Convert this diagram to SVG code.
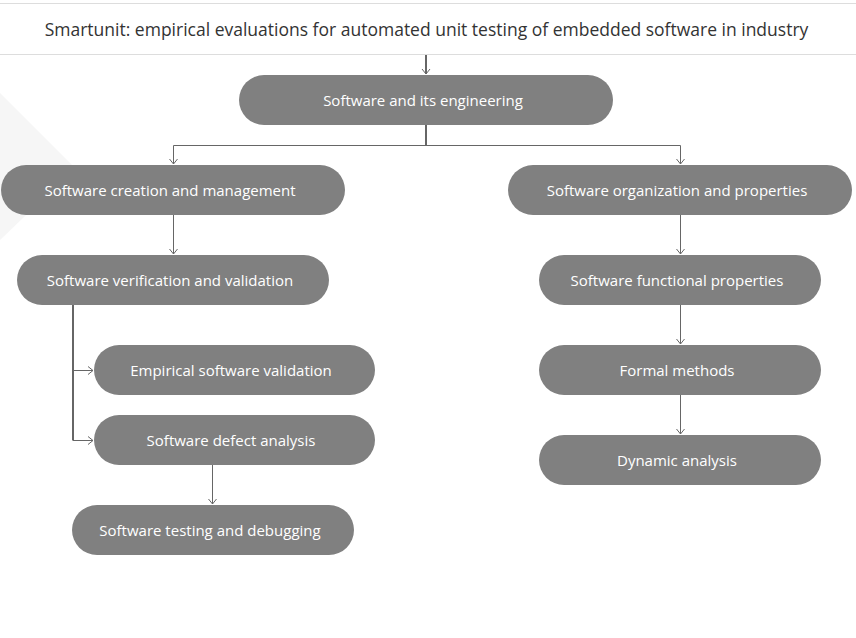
<svg xmlns="http://www.w3.org/2000/svg" width="856" height="638" viewBox="0 0 856 638">
<style>
.node rect{fill:#808080}
.node text{fill:#fff;font-family:"Open Sans","DejaVu Sans",sans-serif;font-size:15px;text-anchor:middle;dominant-baseline:central}
.title{fill:#333;font-family:"Open Sans","DejaVu Sans",sans-serif;font-size:17.5px;text-anchor:middle;dominant-baseline:central}
.c{fill:none;stroke:#666;stroke-width:1}
.t{fill:none;stroke:#666;stroke-width:2}
</style>
<defs>
<marker id="ah" markerWidth="10" markerHeight="10" refX="8" refY="5" orient="auto" markerUnits="userSpaceOnUse">
<path d="M3,1 L8,5 L3,9" fill="none" stroke="#666" stroke-width="1"/>
</marker>
</defs>
<rect x="0" y="0" width="856" height="638" fill="#fff"/>
<polygon points="0,93 75,168 0,240" fill="#f6f6f6"/>
<line x1="0" y1="3.5" x2="856" y2="3.5" stroke="#ddd"/>
<line x1="0" y1="54.5" x2="856" y2="54.5" stroke="#ddd"/>
<text class="title" x="426.5" y="29">Smartunit: empirical evaluations for automated unit testing of embedded software in industry</text>
<g id="connectors">
<line class="t" x1="426" y1="55" x2="426" y2="74" marker-end="url(#ah)"/>
<path class="t" d="M426,125 V145.5"/>
<path class="c" d="M426,145.5 H173.5 V164" marker-end="url(#ah)"/>
<path class="c" d="M426,145.5 H680.5 V164" marker-end="url(#ah)"/>
<path class="c" d="M173.5,215 V254" marker-end="url(#ah)"/>
<path class="t" d="M73,305 V440.5"/>
<path class="c" d="M73,370.5 H93" marker-end="url(#ah)"/>
<path class="c" d="M73,440.5 H93" marker-end="url(#ah)"/>
<path class="c" d="M212.5,465 V504" marker-end="url(#ah)"/>
<path class="c" d="M680.5,215 V254" marker-end="url(#ah)"/>
<path class="c" d="M680.5,305 V344" marker-end="url(#ah)"/>
<path class="c" d="M680.5,395 V434" marker-end="url(#ah)"/>
</g>
<g id="n0" class="node"><rect x="239" y="75" width="374" height="50" rx="25"/><text x="423" y="100">Software and its engineering</text></g>
<g id="n1" class="node"><rect x="1" y="165" width="344" height="50" rx="25"/><text x="170" y="190">Software creation and management</text></g>
<g id="n2" class="node"><rect x="508" y="165" width="344" height="50" rx="25"/><text x="677" y="190">Software organization and properties</text></g>
<g id="n3" class="node"><rect x="17" y="255" width="312" height="50" rx="25"/><text x="170" y="280">Software verification and validation</text></g>
<g id="n4" class="node"><rect x="94" y="345" width="281" height="50" rx="25"/><text x="231" y="370">Empirical software validation</text></g>
<g id="n5" class="node"><rect x="94" y="415" width="281" height="50" rx="25"/><text x="231" y="440">Software defect analysis</text></g>
<g id="n6" class="node"><rect x="72" y="505" width="282" height="50" rx="25"/><text x="210" y="530">Software testing and debugging</text></g>
<g id="n7" class="node"><rect x="539" y="255" width="282" height="50" rx="25"/><text x="677" y="280">Software functional properties</text></g>
<g id="n8" class="node"><rect x="539" y="345" width="282" height="50" rx="25"/><text x="677" y="370">Formal methods</text></g>
<g id="n9" class="node"><rect x="539" y="435" width="282" height="50" rx="25"/><text x="677" y="460">Dynamic analysis</text></g>
</svg>
